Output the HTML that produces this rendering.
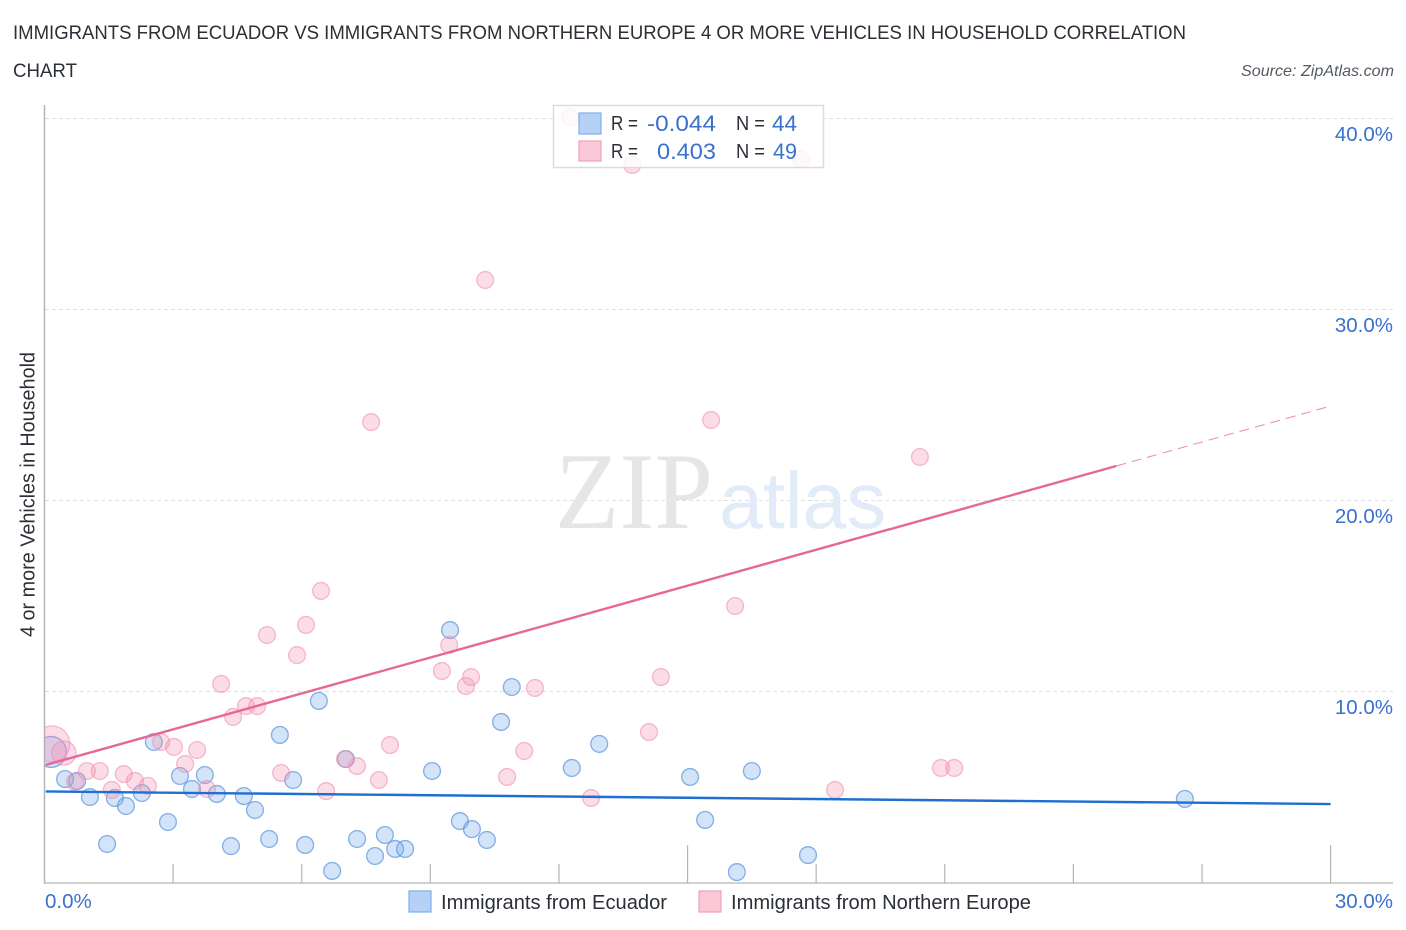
<!DOCTYPE html>
<html>
<head>
<meta charset="utf-8">
<title>Correlation Chart</title>
<style>
html,body{margin:0;padding:0;background:#fff;width:1406px;height:930px;overflow:hidden}
svg{display:block;font-family:"Liberation Sans",sans-serif}
</style>
</head>
<body>
<svg id="chart" xmlns="http://www.w3.org/2000/svg" width="1406" height="930" viewBox="0 0 1406 930">
  <defs>
    <clipPath id="plot-clip"><rect x="44.5" y="100" width="1350" height="784"/></clipPath>
  </defs>
  <rect width="1406" height="930" fill="#fff"/>
  <text x="13" y="39" font-size="19" fill="#2b2f36" textLength="1173" lengthAdjust="spacingAndGlyphs">IMMIGRANTS FROM ECUADOR VS IMMIGRANTS FROM NORTHERN EUROPE 4 OR MORE VEHICLES IN HOUSEHOLD CORRELATION</text>
  <text x="13" y="77" font-size="19" fill="#2b2f36" textLength="64" lengthAdjust="spacingAndGlyphs">CHART</text>
  <text x="1394" y="76" font-size="16" font-style="italic" fill="#555b63" text-anchor="end" textLength="153" lengthAdjust="spacingAndGlyphs">Source: ZipAtlas.com</text>
  <g id="grid"></g>
  <g>
    <text x="555" y="528" style="font-family:'Liberation Serif',serif" font-size="109" fill="#e6e6e6" textLength="158" lengthAdjust="spacingAndGlyphs">ZIP</text>
    <text x="719" y="528" style="font-family:'Liberation Sans',sans-serif" font-size="80" fill="#e2ecf9" textLength="167" lengthAdjust="spacingAndGlyphs">atlas</text>
  </g>
  <g id="axes"></g>
  <g id="blue-points" clip-path="url(#plot-clip)"></g>
  <g id="pink-points" clip-path="url(#plot-clip)"></g>
  <g id="trends"></g>
  <g id="labels"></g>

  <g>
    <rect x="553.5" y="105.5" width="270" height="62" fill="#fff" fill-opacity="0.82" stroke="#dcdcdc" stroke-width="1.5"/>
    <rect x="579" y="113" width="22" height="21" fill="#b5d1f5" stroke="#7fafea" stroke-width="1.2"/>
    <rect x="579" y="141" width="22" height="20" fill="#fbc8d8" stroke="#f0a0ba" stroke-width="1.2"/>
    <g font-size="20.5" fill="#2b2f36">
      <text x="611" y="130" textLength="27" lengthAdjust="spacingAndGlyphs">R =</text>
      <text x="736" y="130" textLength="29" lengthAdjust="spacingAndGlyphs">N =</text>
      <text x="611" y="158" textLength="27" lengthAdjust="spacingAndGlyphs">R =</text>
      <text x="736" y="158" textLength="29" lengthAdjust="spacingAndGlyphs">N =</text>
    </g>
    <g font-size="22" fill="#3a70cf">
      <text x="647" y="131" textLength="69" lengthAdjust="spacingAndGlyphs">-0.044</text>
      <text x="772" y="131" textLength="25" lengthAdjust="spacingAndGlyphs">44</text>
      <text x="657" y="159" textLength="59" lengthAdjust="spacingAndGlyphs">0.403</text>
      <text x="773" y="159" textLength="24" lengthAdjust="spacingAndGlyphs">49</text>
    </g>
  </g>

  <g>
    <rect x="409" y="891" width="22" height="21" fill="#b5d1f5" stroke="#7fafea" stroke-width="1.2"/>
    <text x="441" y="909" font-size="20" fill="#2b2f36" textLength="226" lengthAdjust="spacingAndGlyphs">Immigrants from Ecuador</text>
    <rect x="699" y="891" width="22" height="21" fill="#fbc8d8" stroke="#f0a0ba" stroke-width="1.2"/>
    <text x="731" y="909" font-size="20" fill="#2b2f36" textLength="300" lengthAdjust="spacingAndGlyphs">Immigrants from Northern Europe</text>
  </g>
</svg>
<script>
const yTicks = [10, 20, 30, 40];
const yTickLabels = ["10.0%", "20.0%", "30.0%", "40.0%"];
const xTicks = [0, 3, 6, 9, 12, 15, 18, 21, 24, 27, 30];
const xMajorTicks = [15, 30];
const xEndLabels = ["0.0%", "30.0%"];

const blueX = [0.15,0.48,0.76,1.06,1.64,1.90,1.46,2.27,2.55,2.88,3.16,3.44,3.74,4.02,4.35,4.65,4.91,5.24,5.49,5.80,6.08,6.40,6.71,7.03,7.29,7.71,7.94,8.18,8.41,9.04,9.69,9.97,10.32,9.46,10.90,10.65,12.30,12.94,15.06,15.41,16.15,16.50,17.81,26.60];
const blueY = [6.81,5.39,5.29,4.45,4.40,3.98,1.99,4.66,7.33,3.14,5.55,4.87,5.60,4.61,1.88,4.50,3.77,2.25,7.70,5.34,1.94,9.48,0.58,6.44,2.25,1.36,2.46,1.73,1.73,5.81,3.19,2.77,2.20,13.19,10.21,8.38,5.97,7.23,5.50,3.25,0.52,5.81,1.41,4.35];
const blueWeights = [3.4,1,1,1,1,1,1,1,1,1,1,1,1,1,1,1,1,1,1,1,1,1,1,1,1,1,1,1,1,1,1,1,1,1,1,1,1,1,1,1,1,1,1,1];

const pinkX = [0.17,0.45,0.99,1.29,0.71,1.57,1.85,2.11,2.41,2.72,3.02,3.28,3.56,3.79,4.12,4.40,4.70,4.96,5.19,5.52,5.89,6.10,6.45,6.57,7.29,7.01,7.62,7.80,8.06,9.27,9.44,9.83,9.95,10.28,10.79,11.19,11.44,12.26,12.75,13.71,14.10,14.38,15.55,16.11,17.65,18.44,20.42,20.91,21.22];
const pinkY = [7.23,6.75,5.81,5.81,5.24,4.82,5.65,5.29,5.03,7.33,7.07,6.18,6.91,4.87,10.37,8.64,9.21,9.21,12.93,5.71,11.88,13.46,15.24,4.76,6.07,6.44,24.08,5.34,7.17,11.05,12.41,10.26,10.73,31.52,5.50,6.86,10.16,40.05,4.40,37.54,7.85,10.73,24.19,14.45,37.85,4.82,22.25,5.97,5.97];
const pinkWeights = [4.6,2.1,1,1,1,1,1,1,1,1,1,1,1,1,1,1,1,1,1,1,1,1,1,1,1,1,1,1,1,1,1,1,1,1,1,1,1,1,1,1,1,1,1,1,1,1,1,1,1];

const blueTrendX = [0.03, 30];
const blueTrendY = [4.74, 4.08];
const pinkTrendX = [0.03, 25];
const pinkTrendY = [6.13, 21.78];
const pinkDashX = [25, 30];
const pinkDashY = [21.78, 24.92];

const NS = "http://www.w3.org/2000/svg";
const xScale = v => 44.5 + 42.87 * v;
const yScale = v => 882 - 19.1 * v;
const rScale = w => 8.4 * Math.sqrt(w);
function mk(parent, tag, attrs, text) {
  const el = document.createElementNS(NS, tag);
  for (const k in attrs) el.setAttribute(k, attrs[k]);
  if (text !== undefined) el.textContent = text;
  document.getElementById(parent).appendChild(el);
  return el;
}

yTicks.forEach((t, i) => {
  const g = mk("grid", "line", {x1: 45, x2: 1393, y1: yScale(t) + 0.5, y2: yScale(t) + 0.5, stroke: "#dedede", "stroke-width": 1, "stroke-dasharray": "4 3"});
  
  
  const l = mk("labels", "text", {x: 1393, y: yScale(t) + 23, "font-size": 20.5, fill: "#3a70cf", "text-anchor": "end"}, yTickLabels[i]);
  
  
});

const yAxis = mk("axes", "line", {x1: 44.5, x2: 44.5, y1: 105, y2: 884, stroke: "#b5b5b5", "stroke-width": 1.5});


const xAxis = mk("axes", "line", {x1: 44, x2: 1393, y1: 883, y2: 883, stroke: "#c2c2c2", "stroke-width": 1.6});


xTicks.slice(1).forEach(t => {
  const top = xMajorTicks.includes(t) ? 845 : 864;
  const k = mk("axes", "line", {x1: xScale(t), x2: xScale(t), y1: top, y2: 883, stroke: "#b5b5b5", "stroke-width": 1.2});
  
  
});

const xl0 = mk("labels", "text", {x: 45, y: 908, "font-size": 20.5, fill: "#3a70cf"}, xEndLabels[0]);


const xl1 = mk("labels", "text", {x: 1393, y: 908, "font-size": 20.5, fill: "#3a70cf", "text-anchor": "end"}, xEndLabels[1]);


const yt = mk("labels", "text", {x: 0, y: 0, "font-size": 20, fill: "#2b2f36", "text-anchor": "middle", textLength: 285, lengthAdjust: "spacingAndGlyphs", transform: "translate(34.5 494.5) rotate(-90)"}, "4 or more Vehicles in Household");



blueX.forEach((x, i) => {
  const c = mk("blue-points", "circle", {cx: xScale(x), cy: yScale(blueY[i]), r: rScale(blueWeights[i]), fill: "#6ea6e8", "fill-opacity": 0.3, stroke: "#5f97de", "stroke-opacity": 0.75, "stroke-width": 1.3});
  
  
});
pinkX.forEach((x, i) => {
  const c = mk("pink-points", "circle", {cx: xScale(x), cy: yScale(pinkY[i]), r: rScale(pinkWeights[i]), fill: "#f48fb1", "fill-opacity": 0.3, stroke: "#ee8fae", "stroke-opacity": 0.6, "stroke-width": 1.3});
  
  
});

const tb = mk("trends", "line", {x1: xScale(blueTrendX[0]), x2: xScale(blueTrendX[1]), y1: yScale(blueTrendY[0]), y2: yScale(blueTrendY[1]), stroke: "#1f6fd0", "stroke-width": 2.4});


const tp = mk("trends", "line", {x1: xScale(pinkTrendX[0]), x2: xScale(pinkTrendX[1]), y1: yScale(pinkTrendY[0]), y2: yScale(pinkTrendY[1]), stroke: "#e8679a", "stroke-width": 2.4});


const td = mk("trends", "line", {x1: xScale(pinkDashX[0]), x2: xScale(pinkDashX[1]), y1: yScale(pinkDashY[0]), y2: yScale(pinkDashY[1]), stroke: "#e8679a", "stroke-width": 1, "stroke-dasharray": "10 6", "stroke-opacity": 0.8});


</script>
</body>
</html>
